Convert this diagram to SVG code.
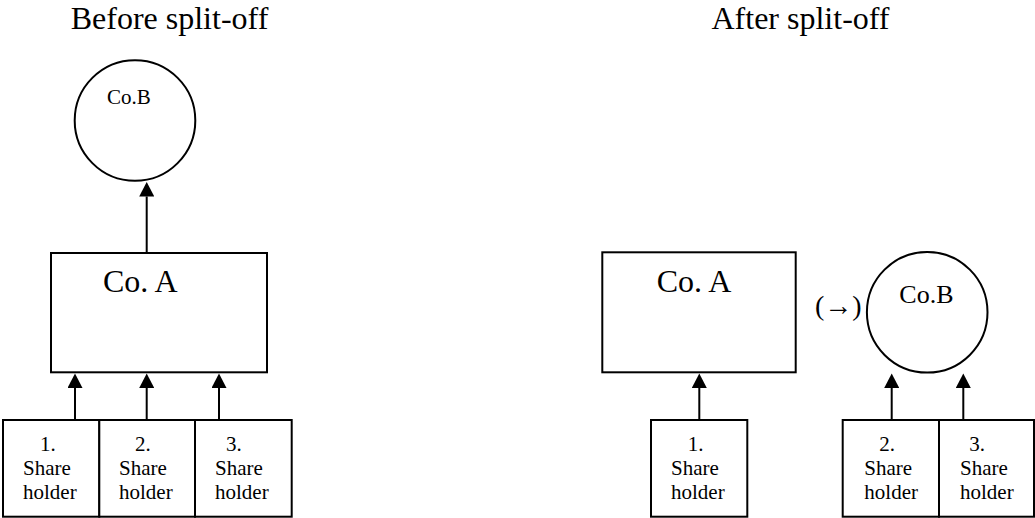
<svg xmlns="http://www.w3.org/2000/svg" width="1035" height="518" viewBox="0 0 1035 518">
<style>
text{font-family:"Liberation Serif","Times New Roman",serif;fill:#000}
.title{font-size:32px;text-anchor:middle}
.big{font-size:32px}
.sm{font-size:21px}
.shape{fill:#fff;stroke:#000;stroke-width:2}
.conn{stroke:#000;stroke-width:2;fill:none;marker-end:url(#ah)}
</style>
<defs>
<marker id="ah" markerUnits="userSpaceOnUse" markerWidth="15" markerHeight="15" viewBox="0 0 15 15" refX="0" refY="7.5" orient="auto">
<path d="M0,0 L14.5,7.5 L0,15 Z" fill="#000"/>
</marker>
</defs>
<rect width="1035" height="518" fill="#fff"/>
<text class="title" x="169.5" y="28.5">Before split-off</text>
<text class="title" x="800.5" y="28.5">After split-off</text>

<g id="before-cob"><circle class="shape" cx="135" cy="120.5" r="60.3"/><text class="sm" x="107" y="104">Co.B</text></g>
<g id="before-coa"><rect class="shape" x="51" y="253" width="216" height="119.3"/><text class="big" x="103" y="291.7">Co. A</text></g>
<g id="before-sh1"><rect class="shape" x="3" y="420" width="96.3" height="96.7"/><text class="sm"><tspan x="40" y="451">1.</tspan><tspan x="23" y="475">Share</tspan><tspan x="23" y="499.3">holder</tspan></text></g>
<g id="before-sh2"><rect class="shape" x="99.3" y="420" width="95.7" height="96.7"/><text class="sm"><tspan x="135" y="451">2.</tspan><tspan x="119" y="475">Share</tspan><tspan x="119" y="499.3">holder</tspan></text></g>
<g id="before-sh3"><rect class="shape" x="195" y="420" width="96.7" height="96.7"/><text class="sm"><tspan x="226" y="451">3.</tspan><tspan x="215" y="475">Share</tspan><tspan x="215" y="499.3">holder</tspan></text></g>

<g id="after-coa"><rect class="shape" x="602.3" y="252.3" width="193.4" height="120"/><text class="big" x="656.7" y="292.3">Co. A</text></g>
<g id="after-cob"><circle class="shape" cx="927.2" cy="312.3" r="60.3"/><text style="font-size:26px" x="899.3" y="303.3">Co.B</text><text style="font-size:28px" x="815" y="315">(→)</text></g>
<g id="after-sh1"><rect class="shape" x="651" y="420" width="96.3" height="96.7"/><text class="sm"><tspan x="687.7" y="451">1.</tspan><tspan x="671" y="475">Share</tspan><tspan x="671" y="499.3">holder</tspan></text></g>
<g id="after-sh2"><rect class="shape" x="842.7" y="420" width="96.3" height="96.7"/><text class="sm"><tspan x="879.3" y="451">2.</tspan><tspan x="864.3" y="475">Share</tspan><tspan x="864.3" y="499.3">holder</tspan></text></g>
<g id="after-sh3"><rect class="shape" x="939" y="420" width="95" height="96.7"/><text class="sm"><tspan x="969.3" y="451">3.</tspan><tspan x="960" y="475">Share</tspan><tspan x="960" y="499.3">holder</tspan></text></g>

<g id="connectors">
<line class="conn" x1="146.7" y1="253" x2="146.7" y2="196.5"/>
<line class="conn" x1="75" y1="420" x2="75" y2="388"/>
<line class="conn" x1="146.7" y1="420" x2="146.7" y2="388"/>
<line class="conn" x1="219" y1="420" x2="219" y2="388"/>
<line class="conn" x1="699.3" y1="420" x2="699.3" y2="388"/>
<line class="conn" x1="891.7" y1="420" x2="891.7" y2="388"/>
<line class="conn" x1="963.3" y1="420" x2="963.3" y2="388"/>
</g>
</svg>
